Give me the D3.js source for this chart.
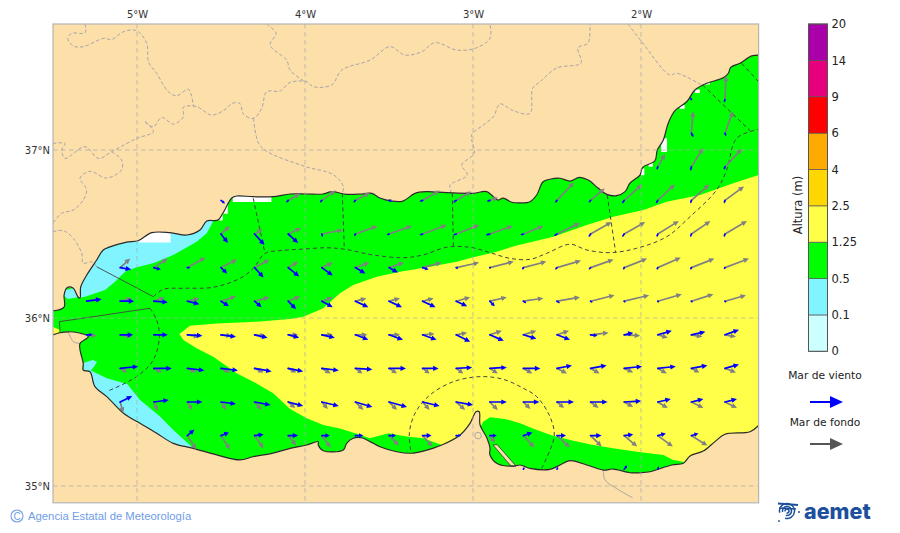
<!DOCTYPE html>
<html><head><meta charset="utf-8">
<script src="https://cdn.jsdelivr.net/npm/d3@7"></script>
<style>html,body{margin:0;padding:0;background:#fff}svg{display:block}</style></head>
<body><svg id="c" width="900" height="533"></svg>
<script>
// ---------- Data (all in degrees lon/lat, or metres) ----------
const lonTicks = [-5,-4,-3,-2];
const latTicks = [35,36,37];
const heightLabels = ["0","0.1","0.5","1.25","2.5","4","6","9","14","20"];
const heightColors = ["#ccffff","#80f4ff","#00ff00","#ffff4a","#ffd700","#ffaa00","#ff0000","#e6007e","#aa00aa"];

const coastNorth = [[-5.5,36.042],[-5.434,36.065],[-5.434,36.137],[-5.418,36.179],[-5.381,36.179],[-5.351,36.125],[-5.339,36.119],[-5.335,36.185],[-5.299,36.256],[-5.24,36.345],[-5.201,36.405],[-5.161,36.423],[-5.061,36.452],[-4.994,36.46],[-4.912,36.508],[-4.804,36.508],[-4.704,36.494],[-4.625,36.524],[-4.585,36.577],[-4.518,36.583],[-4.488,36.625],[-4.436,36.714],[-4.407,36.726],[-4.31,36.722],[-4.191,36.722],[-4.089,36.738],[-3.99,36.738],[-3.893,36.738],[-3.841,36.752],[-3.752,36.736],[-3.663,36.738],[-3.603,36.742],[-3.554,36.714],[-3.484,36.696],[-3.417,36.696],[-3.345,36.742],[-3.276,36.752],[-3.157,36.746],[-2.998,36.742],[-2.919,36.752],[-2.851,36.702],[-2.821,36.714],[-2.77,36.689],[-2.72,36.685],[-2.661,36.692],[-2.621,36.732],[-2.583,36.811],[-2.542,36.826],[-2.482,36.832],[-2.423,36.815],[-2.367,36.837],[-2.314,36.821],[-2.254,36.772],[-2.204,36.736],[-2.145,36.728],[-2.095,36.752],[-2.066,36.802],[-2.006,36.851],[-1.99,36.897],[-1.917,36.936],[-1.903,37.0],[-1.867,37.06],[-1.838,37.159],[-1.798,37.234],[-1.728,37.287],[-1.679,37.357],[-1.609,37.397],[-1.51,37.43],[-1.48,37.457],[-1.466,37.492],[-1.411,37.516],[-1.341,37.56],[-1.3,37.565]];
const coastSouth = [[-1.3,35.36],[-1.351,35.323],[-1.5,35.308],[-1.56,35.264],[-1.629,35.208],[-1.708,35.179],[-1.748,35.135],[-1.817,35.125],[-1.946,35.085],[-2.006,35.079],[-2.066,35.079],[-2.165,35.101],[-2.224,35.095],[-2.304,35.119],[-2.423,35.151],[-2.482,35.125],[-2.542,35.099],[-2.661,35.105],[-2.72,35.125],[-2.756,35.118],[-2.851,35.131],[-2.899,35.185],[-2.899,35.226],[-2.917,35.286],[-2.958,35.363],[-2.963,35.442],[-2.982,35.442],[-3.018,35.373],[-3.077,35.304],[-3.186,35.244],[-3.296,35.208],[-3.365,35.195],[-3.454,35.204],[-3.554,35.234],[-3.613,35.264],[-3.663,35.287],[-3.713,35.284],[-3.752,35.254],[-3.772,35.214],[-3.891,35.21],[-3.921,35.244],[-3.921,35.264],[-3.99,35.244],[-4.089,35.224],[-4.191,35.196],[-4.31,35.174],[-4.387,35.155],[-4.526,35.185],[-4.665,35.224],[-4.784,35.254],[-4.883,35.314],[-4.982,35.373],[-5.052,35.413],[-5.091,35.442],[-5.18,35.532],[-5.25,35.591],[-5.28,35.68],[-5.32,35.69],[-5.32,35.73],[-5.339,35.81],[-5.339,35.849],[-5.29,35.889],[-5.349,35.912],[-5.409,35.918],[-5.458,35.912],[-5.5,35.899]];
const spit = [[-2.881,35.244],[-2.857,35.247],[-2.744,35.119],[-2.774,35.119]];

const cyanNW = [[-4.546,36.577],[-4.585,36.504],[-4.645,36.454],[-4.784,36.375],[-4.903,36.326],[-5.002,36.302],[-5.071,36.276],[-5.131,36.216],[-5.19,36.167],[-5.31,36.127],[-5.351,36.119],[-5.37,36.47],[-4.55,36.7]];
const cyanBay = [[-5.423,36.167],[-5.375,36.179],[-5.345,36.125],[-5.411,36.113],[-5.44,36.137]];
const cyanSW = [[-5.28,35.69],[-5.18,35.641],[-5.058,35.607],[-4.982,35.512],[-4.863,35.413],[-4.784,35.333],[-4.665,35.224],[-4.7,35.1],[-5.4,35.5]];
const cyanSWBlob = [[-5.32,35.732],[-5.262,35.75],[-5.238,35.738],[-5.262,35.702],[-5.28,35.685],[-5.315,35.69]];
const yellowMain = [[-4.748,35.905],[-4.685,35.954],[-4.526,35.968],[-4.288,35.978],[-4.089,35.994],[-4.01,36.008],[-3.891,36.058],[-3.792,36.147],[-3.713,36.196],[-3.573,36.246],[-3.435,36.276],[-3.256,36.305],[-3.097,36.335],[-2.998,36.361],[-2.859,36.395],[-2.74,36.432],[-2.522,36.484],[-2.323,36.554],[-2.165,36.603],[-1.986,36.643],[-1.847,36.692],[-1.649,36.732],[-1.451,36.802],[-1.3,36.851],[-1.3,35.2],[-1.72,35.13],[-1.748,35.145],[-1.808,35.155],[-1.867,35.185],[-2.026,35.204],[-2.165,35.224],[-2.284,35.244],[-2.423,35.274],[-2.522,35.299],[-2.621,35.333],[-2.72,35.373],[-2.81,35.399],[-2.899,35.409],[-2.94,35.383],[-2.97,35.321],[-3.107,35.244],[-3.186,35.244],[-3.296,35.284],[-3.395,35.294],[-3.504,35.314],[-3.613,35.284],[-3.702,35.314],[-3.792,35.343],[-3.891,35.363],[-3.99,35.403],[-4.089,35.458],[-4.189,35.552],[-4.308,35.621],[-4.407,35.671],[-4.546,35.77],[-4.645,35.82],[-4.724,35.869]];
const yellowStrait = [[-5.5,35.946],[-5.458,35.929],[-5.476,35.899],[-5.5,35.899]];
const noData = [
 [[-4.99,36.45],[-4.8,36.45],[-4.8,36.55],[-4.99,36.55]],
 [[-4.43,36.69],[-4.2,36.69],[-4.2,36.75],[-4.43,36.75]],
 [[-4.51,36.58],[-4.49,36.58],[-4.49,36.62],[-4.46,36.62],[-4.46,36.68],[-4.51,36.68]],
 [[-1.88,36.988],[-1.845,36.988],[-1.845,37.07],[-1.88,37.07]],
 [[-2.0,36.85],[-1.98,36.85],[-1.98,36.89],[-2.0,36.89]],
 [[-1.955,36.9],[-1.93,36.9],[-1.93,36.925],[-1.955,36.925]],
 [[-1.77,37.245],[-1.74,37.245],[-1.74,37.27],[-1.77,37.27]],
 [[-1.68,37.34],[-1.65,37.34],[-1.65,37.36],[-1.68,37.36]],
 [[-1.63,37.39],[-1.59,37.39],[-1.59,37.41],[-1.63,37.41]]
];

const zonesDashed = [
 [[-4.903,36.127],[-4.843,36.171],[-4.724,36.177],[-4.546,36.183],[-4.387,36.236],[-4.308,36.296],[-4.238,36.385],[-4.149,36.401],[-4.03,36.409],[-3.871,36.418],[-3.762,36.409],[-3.593,36.375],[-3.415,36.359],[-3.298,36.375],[-3.157,36.421],[-3.018,36.421],[-2.899,36.389],[-2.78,36.355],[-2.661,36.349],[-2.561,36.385],[-2.423,36.439],[-2.323,36.405],[-2.185,36.389],[-2.026,36.415],[-1.847,36.484],[-1.708,36.603],[-1.55,36.762],[-1.49,36.881],[-1.43,37.07],[-1.3,37.123]],
 [[-4.308,36.712],[-4.238,36.385]],
 [[-3.778,36.742],[-3.766,36.415]],
 [[-3.123,36.742],[-3.117,36.424]],
 [[-2.201,36.732],[-2.151,36.391]],
 [[-1.633,37.387],[-1.351,37.115]],
 [[-1.401,37.516],[-1.3,37.406]],
 [[-4.923,36.058],[-4.883,35.988],[-4.867,35.889],[-4.903,35.75],[-5.002,35.651],[-5.171,35.566]],
 [[-3.371,35.214],[-3.379,35.314],[-3.345,35.433],[-3.256,35.542],[-3.117,35.621],[-2.958,35.651],[-2.82,35.635],[-2.701,35.582],[-2.621,35.532],[-2.542,35.413],[-2.516,35.304],[-2.542,35.214],[-2.591,35.105]]
];
const zonesSolid = [
 [[-5.24,36.305],[-4.903,36.127]],
 [[-4.923,36.058],[-5.462,35.978],[-5.458,35.918]]
];
const landBorders = [
 [[-5.309,37.75],[-5.309,37.698],[-5.389,37.694],[-5.412,37.664],[-5.379,37.619],[-5.319,37.615],[-5.2,37.664],[-5.15,37.658],[-5.081,37.704],[-5.002,37.71],[-4.942,37.635],[-4.932,37.525],[-4.883,37.456],[-4.813,37.347],[-4.764,37.323],[-4.694,37.361],[-4.664,37.258]],
 [[-4.952,37.168],[-4.902,37.138],[-4.853,37.194],[-4.783,37.154],[-4.724,37.198],[-4.724,37.254],[-4.645,37.258],[-4.555,37.208],[-4.466,37.248],[-4.436,37.277],[-4.387,37.277],[-4.367,37.214],[-4.307,37.188],[-4.258,37.248],[-4.228,37.347],[-4.148,37.351],[-4.089,37.402],[-3.99,37.406],[-3.95,37.377],[-3.841,37.387],[-3.781,37.476],[-3.613,37.535],[-3.494,37.615],[-3.405,37.565],[-3.305,37.585],[-3.226,37.639],[-3.097,37.595],[-2.988,37.605],[-2.899,37.664],[-2.899,37.75]],
 [[-4.952,37.168],[-4.902,37.109],[-5.002,37.069],[-5.151,36.99],[-5.23,36.95],[-5.309,37.02],[-5.428,36.95],[-5.448,37.0],[-5.428,37.039],[-5.5,37.039]],
 [[-4.228,37.75],[-4.172,37.694],[-4.208,37.625],[-4.109,37.535],[-4.089,37.476],[-4.0,37.406]],
 [[-4.307,37.188],[-4.277,37.041],[-4.228,36.992],[-4.0,36.902],[-3.831,36.853],[-3.772,36.783],[-3.778,36.742]],
 [[-5.151,36.99],[-5.092,36.941],[-5.092,36.882],[-5.181,36.833],[-5.28,36.873],[-5.339,36.833],[-5.3,36.764],[-5.32,36.702],[-5.379,36.643],[-5.449,36.623],[-5.5,36.564]],
 [[-5.5,36.514],[-5.439,36.52],[-5.379,36.474],[-5.329,36.385],[-5.32,36.326],[-5.27,36.335],[-5.24,36.305]],
 [[-3.133,36.742],[-3.133,36.762],[-3.137,36.792],[-3.034,36.851],[-3.067,36.911],[-2.994,36.98],[-3.008,37.089],[-2.938,37.149],[-2.879,37.198],[-2.839,37.274],[-2.76,37.234],[-2.661,37.218],[-2.645,37.367],[-2.601,37.406],[-2.502,37.488],[-2.357,37.518],[-2.375,37.607],[-2.315,37.637],[-2.304,37.75]],
 [[-2.077,37.75],[-1.996,37.645],[-1.828,37.446],[-1.788,37.457],[-1.639,37.387]]
];
const thinBorders = [
 [[-2.224,35.095],[-2.214,35.036],[-2.137,34.98],[-2.05,34.93]],
 [[-5.409,35.918],[-5.379,35.859],[-5.344,35.849]]
];

// [lon, lat, eastward, northward] arrow components
const windArrows = [
 [-1.7,37.3,-.1,.2],[-1.5,37.3,-.1,-.3],
 [-1.7,37.1,.2,-.4],[-1.5,37.1,.1,-.3],
 [-1.9,36.9,-.1,-.3],[-1.7,36.9,-.1,-.4],[-1.5,36.9,-.1,-.3],
 [-4.5,36.7,.4,-.3],[-4.1,36.7,-.2,-.2],[-3.9,36.7,-.2,-.2],[-3.7,36.7,-.2,-.2],[-3.5,36.7,.3,-.1],[-3.3,36.7,-.3,-.1],[-3.1,36.7,-.3,-.2],[-2.9,36.7,-.3,-.1],[-2.5,36.7,-.2,-.2],[-2.3,36.7,-.2,-.2],[-2.1,36.7,-.2,-.3],[-1.9,36.7,-.2,-.3],[-1.7,36.7,-.1,-.3],[-1.5,36.7,-.1,-.3],
 [-4.5,36.5,.7,-.9],[-4.3,36.5,1,-1.1],[-4.1,36.5,1,-.9],[-3.9,36.5,.1,-.3],[-3.7,36.5,-.1,-.2],[-3.5,36.5,-.2,-.1],[-3.3,36.5,-.3,-.1],[-3.1,36.5,-.3,-.1],[-2.9,36.5,-.4,-.1],[-2.7,36.5,-.3,-.1],[-2.5,36.5,-.3,-.2],[-2.3,36.5,-.2,-.3],[-2.1,36.5,-.2,-.3],[-1.9,36.5,-.1,-.3],[-1.7,36.5,-.1,-.3],[-1.5,36.5,-.1,-.3],
 [-5.1,36.3,1.1,-.2],[-4.9,36.3,.7,-.2],[-4.7,36.3,.3,0],[-4.5,36.3,.6,-.6],[-4.3,36.3,.9,-1],[-4.1,36.3,1.1,-.9],[-3.9,36.3,1.1,-.8],[-3.7,36.3,1,-.6],[-3.5,36.3,.9,-.5],[-3.3,36.3,.6,-.2],[-3.1,36.3,.2,-.1],[-2.9,36.3,.1,0],[-2.7,36.3,-.1,-.2],[-2.5,36.3,-.2,-.2],[-2.3,36.3,-.2,-.2],[-2.1,36.3,-.1,-.2],[-1.9,36.3,-.1,-.2],[-1.7,36.3,-.1,-.2],[-1.5,36.3,-.1,-.1],
 [-5.3,36.1,1.5,.2],[-5.1,36.1,1.4,0],[-4.9,36.1,1.4,-.1],[-4.7,36.1,1.2,-.3],[-4.5,36.1,.8,-.5],[-4.3,36.1,.7,-.6],[-4.1,36.1,.8,-.8],[-3.9,36.1,1.1,-.6],[-3.7,36.1,1.3,-.6],[-3.5,36.1,1.3,-.6],[-3.3,36.1,1.3,-.6],[-3.1,36.1,1.1,-.5],[-2.9,36.1,.5,-.5],[-2.7,36.1,.3,-.2],[-2.5,36.1,.3,-.2],[-2.3,36.1,.2,-.1],[-2.1,36.1,.1,-.1],[-1.9,36.1,.1,-.1],[-1.7,36.1,.1,-.1],[-1.5,36.1,.1,-.1],
 [-5.3,35.9,.6,0],[-5.1,35.9,1.3,0],[-4.9,35.9,1.4,0],[-4.7,35.9,1.5,-.1],[-4.5,35.9,1.5,-.2],[-4.3,35.9,1.3,-.3],[-4.1,35.9,1.1,-.3],[-3.9,35.9,1.3,-.3],[-3.7,35.9,1.3,-.5],[-3.5,35.9,1.4,-.5],[-3.3,35.9,1.4,-.5],[-3.1,35.9,1.4,-.7],[-2.9,35.9,1.4,-.6],[-2.7,35.9,1.3,-.4],[-2.5,35.9,1.3,-.5],[-2.3,35.9,.7,-.1],[-2.1,35.9,.9,.2],[-1.9,35.9,1.4,.4],[-1.7,35.9,1.4,.3],[-1.5,35.9,1.4,.5],
 [-5.1,35.7,1.8,.2],[-4.9,35.7,1.8,0],[-4.7,35.7,1.7,-.2],[-4.5,35.7,1.7,-.2],[-4.3,35.7,1.7,-.3],[-4.1,35.7,1.5,-.3],[-3.9,35.7,1.7,-.2],[-3.7,35.7,1.7,-.1],[-3.5,35.7,1.7,0],[-3.3,35.7,1.6,0],[-3.1,35.7,1.6,.1],[-2.9,35.7,1.7,.1],[-2.7,35.7,1.7,0],[-2.5,35.7,1.5,.3],[-2.3,35.7,1.6,.3],[-2.1,35.7,1.8,.2],[-1.9,35.7,1.8,.2],[-1.7,35.7,1.6,.3],[-1.5,35.7,1.4,.4],
 [-5.1,35.5,1.2,.6],[-4.9,35.5,1.5,.2],[-4.7,35.5,1.5,0],[-4.5,35.5,1.5,-.2],[-4.3,35.5,1.6,-.3],[-4.1,35.5,1.5,-.4],[-3.9,35.5,1.7,-.4],[-3.7,35.5,1.7,-.5],[-3.5,35.5,1.8,-.5],[-3.3,35.5,1.7,-.4],[-3.1,35.5,1.7,-.3],[-2.9,35.5,1.7,0],[-2.7,35.5,1.6,0],[-2.5,35.5,1.7,0],[-2.3,35.5,1.7,0],[-2.1,35.5,1.7,.1],[-1.9,35.5,1.3,.3],[-1.7,35.5,1.2,.3],[-1.5,35.5,1.2,.3],
 [-4.7,35.3,.7,.6],[-4.5,35.3,.8,.3],[-4.3,35.3,.9,.1],[-4.1,35.3,1,0],[-3.9,35.3,.8,0],[-3.7,35.3,.8,0],[-3.5,35.3,.7,0],[-3.3,35.3,.9,0],[-3.1,35.3,.5,0],[-2.9,35.3,.7,0],[-2.7,35.3,.9,.3],[-2.5,35.3,.9,0],[-2.3,35.3,1.1,0],[-2.1,35.3,.9,.1],[-1.9,35.3,.8,.2],[-1.7,35.3,.7,.2],
 [-2.7,35.1,.1,.2],[-2.5,35.1,.1,.2],[-2.1,35.1,.3,.4],[-1.9,35.1,.1,.3]
];
const swellArrows = [
 [-1.5,37.3,.1,2.4],
 [-1.7,37.1,.17,2.2],[-1.5,37.1,.8,2.2],
 [-1.9,36.9,.73,1.27],[-1.7,36.9,1.2,1.9],[-1.5,36.9,1.7,1.8],
 [-4.1,36.7,1.2,.7],[-3.9,36.7,1.4,1],[-3.7,36.7,1.5,.8],[-3.5,36.7,.3,.1],[-3.3,36.7,1.7,1],[-3.1,36.7,1.5,.9],[-2.9,36.7,.8,.3],[-2.5,36.7,1.7,1.8],[-2.3,36.7,1.4,1.2],[-2.1,36.7,1.8,1.6],[-1.9,36.7,1.7,1.6],[-1.7,36.7,1.8,1.6],[-1.5,36.7,1.9,1.4],
 [-4.5,36.5,.9,.8],[-4.3,36.5,.8,.5],[-4.1,36.5,1.3,.6],[-3.9,36.5,2.1,.4],[-3.7,36.5,2.2,.8],[-3.5,36.5,2.3,.8],[-3.3,36.5,2.4,.9],[-3.1,36.5,2.3,.9],[-2.9,36.5,2.3,.8],[-2.7,36.5,2,.8],[-2.5,36.5,2.3,1.1],[-2.3,36.5,2.1,1.2],[-2.1,36.5,2.1,1.2],[-1.9,36.5,2.1,1.3],[-1.7,36.5,1.9,1.3],[-1.5,36.5,2.2,1.3],
 [-5.1,36.3,1,.9],[-4.9,36.3,1.4,.9],[-4.7,36.3,1.8,1],[-4.5,36.3,1.6,.8],[-4.3,36.3,1.5,.8],[-4.1,36.3,1,.6],[-3.9,36.3,1.1,.5],[-3.7,36.3,1.4,.5],[-3.5,36.3,1.5,.5],[-3.3,36.3,1.9,.5],[-3.1,36.3,2.3,.5],[-2.9,36.3,2.4,.6],[-2.7,36.3,2.3,.6],[-2.5,36.3,2.4,.7],[-2.3,36.3,2.3,.8],[-2.1,36.3,2.3,.9],[-1.9,36.3,2.3,1],[-1.7,36.3,2.3,.9],[-1.5,36.3,2.4,.9],
 [-5.3,36.1,1.4,.2],[-5.1,36.1,1.2,.3],[-4.9,36.1,1.1,.4],[-4.7,36.1,1.2,.3],[-4.5,36.1,1.5,.5],[-4.3,36.1,1.5,.4],[-4.1,36.1,1.2,.5],[-3.9,36.1,1.1,.4],[-3.7,36.1,1.1,.3],[-3.5,36.1,1.1,.3],[-3.3,36.1,1.1,.3],[-3.1,36.1,1.4,.4],[-2.9,36.1,1.7,.4],[-2.7,36.1,2,.3],[-2.5,36.1,2.3,.4],[-2.3,36.1,2.4,.6],[-2.1,36.1,2.5,.6],[-1.9,36.1,2.4,.7],[-1.7,36.1,2.2,.7],[-1.5,36.1,2.1,.6],
 [-5.3,35.9,1,-.1],[-5.1,35.9,1.2,-.2],[-4.7,35.9,1.2,-.2],[-4.5,35.9,1.1,-.1],[-4.3,35.9,1.1,-.1],[-4.1,35.9,1,0],[-3.9,35.9,1.1,0],[-3.7,35.9,1.2,0],[-3.5,35.9,1.1,0],[-3.3,35.9,1.2,.1],[-3.1,35.9,1.1,.2],[-2.9,35.9,1.2,.4],[-2.7,35.9,1.3,.4],[-2.5,35.9,1.2,.4],[-2.3,35.9,1.8,.2],[-2.1,35.9,1.6,-.1],[-1.9,35.9,1,-.3],[-1.7,35.9,1.1,-.2],[-1.5,35.9,1.1,-.2],
 [-5.1,35.7,.7,-.4],[-4.9,35.7,.8,-.4],[-4.7,35.7,.9,-.4],[-4.5,35.7,.9,-.4],[-4.3,35.7,.9,-.4],[-4.1,35.7,.8,-.4],[-3.9,35.7,.9,-.5],[-3.7,35.7,.7,-.5],[-3.5,35.7,.8,-.5],[-3.3,35.7,.7,-.5],[-3.1,35.7,.7,-.5],[-2.9,35.7,.8,-.5],[-2.7,35.7,.9,-.5],[-2.5,35.7,1,-.5],[-2.3,35.7,.9,-.5],[-2.1,35.7,.9,-.4],[-1.9,35.7,.9,-.5],[-1.7,35.7,.8,-.4],[-1.5,35.7,1.1,-.4],
 [-5.1,35.5,.3,-1.1],[-4.9,35.5,.4,-.9],[-4.7,35.5,.5,-.8],[-4.5,35.5,.5,-.8],[-4.3,35.5,.7,-.8],[-4.1,35.5,.7,-.6],[-3.9,35.5,.6,-.7],[-3.7,35.5,.8,-.8],[-3.5,35.5,.8,-.8],[-3.3,35.5,.7,-.8],[-3.1,35.5,.9,-.8],[-2.9,35.5,.8,-.8],[-2.7,35.5,.7,-.7],[-2.5,35.5,.7,-.6],[-2.3,35.5,.8,-.6],[-2.1,35.5,.9,-.5],[-1.9,35.5,1,-.6],[-1.7,35.5,1.2,-.6],[-1.5,35.5,1.2,-.6],
 [-4.7,35.3,.9,-1.4],[-4.5,35.3,.9,-1.4],[-4.3,35.3,.9,-1.3],[-4.1,35.3,.8,-1],[-3.9,35.3,.9,-1.2],[-3.7,35.3,.1,-.1],[-3.5,35.3,1,-1],[-3.3,35.3,1,-1.1],[-3.1,35.3,.1,-.1],[-2.9,35.3,.5,-.7],[-2.7,35.3,1.1,-1.2],[-2.5,35.3,1.3,-1.2],[-2.3,35.3,1.1,-1.1],[-2.1,35.3,1.3,-1.1],[-1.9,35.3,1.5,-1.1],[-1.7,35.3,1.6,-1]
];

// ---------- Layout ----------
const svg = d3.select("#c");
const landColor = "#fcdfa9";
const x = d3.scaleLinear().domain([-5.5,-1.3]).range([53,758.6]);
const y = d3.scaleLinear().domain([34.9,37.75]).range([502.8,24]);
const arrowScale = d3.scaleLinear().domain([0,1]).range([0,10]);
const smooth = d3.line(d=>x(d[0]),d=>y(d[1])).curve(d3.curveCatmullRom.alpha(.5));
const line = d3.line(d=>x(d[0]),d=>y(d[1]));
const closed = d3.line(d=>x(d[0]),d=>y(d[1])).curve(d3.curveLinearClosed);
const seaPath = smooth(coastNorth) + "L" + smooth(coastSouth).slice(1) + "Z";

svg.append("clipPath").attr("id","sea").append("path").attr("d",seaPath);
svg.append("clipPath").attr("id","frame").append("rect")
  .attr("x",x(-5.5)).attr("y",y(37.75)).attr("width",x(-1.3)-x(-5.5)).attr("height",y(34.9)-y(37.75));

const map = svg.append("g").attr("clip-path","url(#frame)");
map.append("rect").attr("x",x(-5.5)).attr("y",y(37.75)).attr("width",x(-1.3)-x(-5.5)).attr("height",y(34.9)-y(37.75)).attr("fill",landColor);

// sea bands
const sea = map.append("g").attr("clip-path","url(#sea)");
sea.append("path").attr("d",seaPath).attr("fill",heightColors[2]);
[cyanNW,cyanBay,cyanSW,cyanSWBlob].forEach(p=>sea.append("path").attr("d",closed(p)).attr("fill",heightColors[1]));
[yellowMain,yellowStrait].forEach(p=>sea.append("path").attr("d",closed(p)).attr("fill",heightColors[3]));
noData.forEach(p=>sea.append("path").attr("d",closed(p)).attr("fill","#fff"));

// land borders
map.selectAll(null).data(landBorders).join("path").attr("d",smooth).attr("fill","none")
  .attr("stroke","#9d9dad").attr("stroke-width",.9).attr("stroke-dasharray","3.5,2.2");
map.selectAll(null).data(thinBorders).join("path").attr("d",smooth).attr("fill","none")
  .attr("stroke","#a0a0a0").attr("stroke-width",.9);
map.append("circle").attr("cx",x(-2.97)).attr("cy",y(35.3)).attr("r",3.3).attr("fill","none").attr("stroke","#9a9aaa").attr("stroke-width",.8);

// coast + spit
map.append("path").attr("d",closed(spit)).attr("fill",landColor).attr("stroke","#333").attr("stroke-width",.8);
[coastNorth,coastSouth].forEach(c=>map.append("path").attr("d",smooth(c)).attr("fill","none").attr("stroke","#2a2a2a").attr("stroke-width",1.2));

// maritime zones
map.selectAll(null).data(zonesSolid).join("path").attr("d",line).attr("fill","none").attr("stroke","#444").attr("stroke-width",.9);
map.selectAll(null).data(zonesDashed).join("path").attr("d",smooth).attr("fill","none")
  .attr("stroke","#444").attr("stroke-width",1).attr("stroke-dasharray","4,3");

// arrows
function drawArrows(data,color){
  const g = map.append("g").attr("fill",color).attr("stroke",color);
  data.forEach(d=>{
    const x0=x(d[0]), y0=y(d[1]);
    const dx=arrowScale(d[2]), dy=-arrowScale(d[3]);
    const len=Math.hypot(dx,dy); if(!len) return;
    const ux=dx/len, uy=dy/len, hl=Math.min(5.5,len*.55), hw=Math.min(2.6,len*.3);
    const bx=x0+dx-ux*hl, by=y0+dy-uy*hl;
    g.append("path").attr("d",`M${x0},${y0}L${bx},${by}`).attr("stroke-width",1.7).attr("fill","none").attr("stroke-linecap","round");
    g.append("path").attr("stroke","none")
     .attr("d",`M${x0+dx},${y0+dy}L${bx-uy*hw},${by+ux*hw}L${bx+uy*hw},${by-ux*hw}Z`);
  });
}
drawArrows(swellArrows,"#808080");
drawArrows(windArrows,"#0000ff");

// graticule
map.selectAll(null).data(lonTicks).join("line").attr("x1",d=>x(d)).attr("x2",d=>x(d)).attr("y1",y(37.75)).attr("y2",y(34.9));
map.selectAll(null).data(latTicks).join("line").attr("y1",d=>y(d)).attr("y2",d=>y(d)).attr("x1",x(-5.5)).attr("x2",x(-1.3));
map.selectAll("line").attr("stroke","#aaa").attr("stroke-width",.9).attr("stroke-dasharray","4.5,3.5").attr("opacity",.8);

// frame
svg.append("rect").attr("x",x(-5.5)).attr("y",y(37.75)).attr("width",x(-1.3)-x(-5.5)).attr("height",y(34.9)-y(37.75))
  .attr("fill","none").attr("stroke","#b5b5b5").attr("stroke-width",1.2);

// axes
const font = "'DejaVu Sans',sans-serif";
const ax = svg.append("g").attr("transform",`translate(0,${y(37.75)})`)
  .call(d3.axisTop(x).tickValues(lonTicks).tickSize(0).tickPadding(6).tickFormat(d=>Math.abs(d)+"°W"));
const ay = svg.append("g").attr("transform",`translate(${x(-5.5)},0)`)
  .call(d3.axisLeft(y).tickValues(latTicks).tickSize(0).tickPadding(3).tickFormat(d=>d+"°N"));
[ax,ay].forEach(a=>{a.select(".domain").remove();a.selectAll("text").attr("font-family",font).attr("font-size",10).attr("fill","#333");});

// colour bar
const cbX = 808.5, cbW = 19;
const cbY = d3.scalePoint().domain(heightLabels).range([351.3,24]);
svg.selectAll(null).data(heightColors).join("rect")
  .attr("x",cbX).attr("width",cbW)
  .attr("y",(d,i)=>cbY(heightLabels[i+1])).attr("height",(d,i)=>cbY(heightLabels[i])-cbY(heightLabels[i+1]))
  .attr("fill",d=>d).attr("stroke","#555").attr("stroke-width",.7);
svg.append("rect").attr("x",cbX).attr("y",24).attr("width",cbW).attr("height",327.3).attr("fill","none").attr("stroke","#555").attr("stroke-width",1);
const cbAxis = svg.append("g").attr("transform",`translate(${cbX+cbW},0)`)
  .call(d3.axisRight(cbY).tickSize(0).tickPadding(4));
cbAxis.select(".domain").remove();
cbAxis.selectAll("text").attr("font-family",font).attr("font-size",11.5).attr("fill","#222");
svg.append("text").attr("transform","translate(802,205) rotate(-90)").attr("text-anchor","middle")
  .attr("font-family",font).attr("font-size",11.5).attr("fill","#222").text("Altura (m)");

// legend
function legendArrow(yy,color){
  svg.append("path").attr("d",`M810,${yy}L832,${yy}`).attr("stroke",color).attr("stroke-width",2);
  svg.append("path").attr("d",`M843,${yy}L830,${yy-6}L830,${yy+6}Z`).attr("fill",color);
}
svg.append("text").attr("x",825).attr("y",379).attr("text-anchor","middle").attr("font-family",font).attr("font-size",10.7).attr("fill","#222").text("Mar de viento");
legendArrow(402,"#0000ff");
svg.append("text").attr("x",825).attr("y",426).attr("text-anchor","middle").attr("font-family",font).attr("font-size",10.7).attr("fill","#222").text("Mar de fondo");
legendArrow(444,"#555555");

// footer
svg.append("circle").attr("cx",17).attr("cy",516).attr("r",6).attr("fill","none").attr("stroke","#6f9de8").attr("stroke-width",1.1);
svg.append("text").attr("x",17).attr("y",519.5).attr("text-anchor","middle").attr("font-family","'Liberation Sans',sans-serif").attr("font-size",10).attr("fill","#6f9de8").text("C");
svg.append("text").attr("x",28).attr("y",520).attr("font-family","'Liberation Sans',sans-serif").attr("font-size",11.3).attr("fill","#6f9de8").text("Agencia Estatal de Meteorología");

// logo
const lg = svg.append("g").attr("fill","none").attr("stroke","#1c4f9c").attr("stroke-width",1.5);
[7.5,4.5,2].forEach(r=>lg.append("path").attr("transform","translate(787,511)")
  .attr("d",d3.arc()({innerRadius:r,outerRadius:r,startAngle:-1.8,endAngle:3.4})));
lg.append("path").attr("d","M778,503.5L798,505").attr("stroke-width",2.2);
lg.append("path").attr("d","M779,508L796,509");
svg.append("circle").attr("cx",799).attr("cy",512).attr("r",1).attr("fill","#1c4f9c");
svg.append("circle").attr("cx",779).attr("cy",521).attr("r",.9).attr("fill","#1c4f9c");
svg.append("text").attr("x",804).attr("y",518.8).attr("font-family","Inter,'Open Sans',sans-serif").attr("font-weight",800).attr("font-size",21.5).attr("fill","#1c4f9c").text("aemet");
</script></body></html>
